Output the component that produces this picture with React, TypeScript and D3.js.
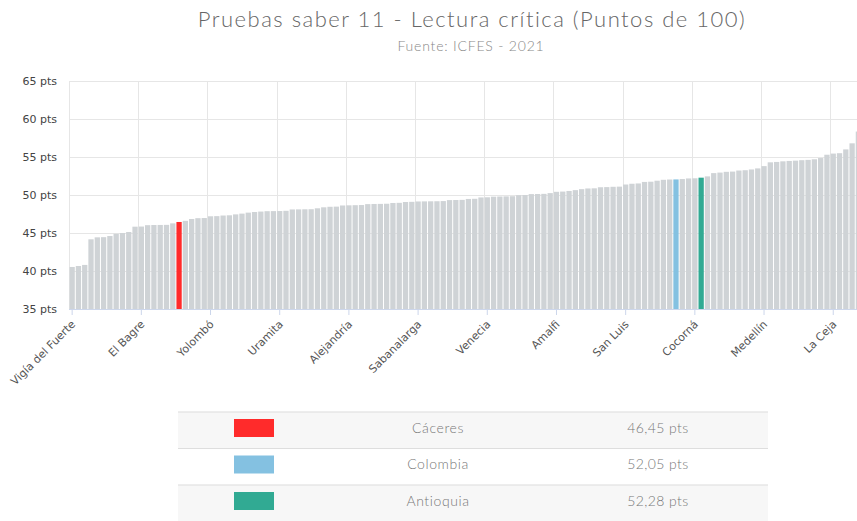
import React from "react";
import * as d3 from "d3";

// Scores (pts) for every bar, sorted ascending (last bar lies beyond the visible frame)
const values: number[] = [
  40.53, 40.66, 40.8, 44.17, 44.43, 44.45, 44.6, 44.9, 45.0, 45.13,
  45.83, 45.85, 46.03, 46.05, 46.06, 46.07, 46.27, 46.45, 46.6, 46.84,
  46.95, 46.97, 47.2, 47.22, 47.3, 47.33, 47.45, 47.55, 47.68, 47.76,
  47.82, 47.87, 47.88, 47.89, 47.92, 48.1, 48.11, 48.12, 48.13, 48.25,
  48.38, 48.45, 48.47, 48.62, 48.64, 48.66, 48.68, 48.8, 48.82, 48.83,
  48.85, 48.95, 48.97, 49.08, 49.1, 49.15, 49.16, 49.17, 49.18, 49.2,
  49.33, 49.34, 49.36, 49.48, 49.5, 49.68, 49.7, 49.78, 49.8, 49.82,
  49.84, 49.98, 50.0, 50.12, 50.13, 50.15, 50.25, 50.42, 50.45, 50.53,
  50.64, 50.77, 50.86, 50.88, 51.02, 51.04, 51.08, 51.1, 51.38, 51.48,
  51.52, 51.72, 51.75, 51.88, 52.0, 52.04, 52.05, 52.1, 52.18, 52.2,
  52.28, 52.45, 52.88, 52.95, 53.05, 53.08, 53.22, 53.26, 53.36, 53.5,
  53.8, 54.3, 54.35, 54.43, 54.48, 54.52, 54.58, 54.62, 54.7, 54.86,
  55.3, 55.45, 55.5, 56.0, 56.8, 58.35, 60.2,
];

// Category names shown on the axis (one every labelStep bars)
const axisLabels: string[] = [
  "Vigía del Fuerte", "El Bagre", "Yolombó", "Uramita", "Alejandría", "Sabanalarga",
  "Venecia", "Amalfi", "San Luis", "Cocorná", "Medellín", "La Ceja",
];
const labelStep = 11;

// Highlighted entries
const highlightNames: string[] = ["Cáceres", "Colombia", "Antioquia"];
const highlightIndex: number[] = [17, 96, 100];
const highlightValues: number[] = [46.45, 52.05, 52.28];
const highlightColors: string[] = ["#ff2b2b", "#84c1e1", "#31aa93"];

const yTicks: number[] = [35, 40, 45, 50, 55, 60, 65];

const W = 857;
const H = 521;
const plotLeft = 69;
const step = 6.29;
const plotTop = 81;
const plotBottom = 309;

export default function App() {
  const n = values.length;
  const x = d3
    .scaleBand<number>()
    .domain(d3.range(n))
    .range([plotLeft, plotLeft + n * step])
    .padding(0);
  const y = d3.scaleLinear().domain([35, 65]).range([plotBottom, plotTop]);
  const plotRight = plotLeft + n * step;

  const colorOf = (i: number) => {
    const k = highlightIndex.indexOf(i);
    return k >= 0 ? highlightColors[k] : "#cfd3d6";
  };

  const labelIdx = axisLabels.map((_, k) => k * labelStep);
  const titleFont = "Lato, 'Open Sans', sans-serif";
  const axisFont = "'DejaVu Sans', Verdana, sans-serif";

  const rowTop = 411.5;
  const rowH = 36.5;
  const tableLeft = 178;
  const tableRight = 768;

  return (
    <div style={{ position: "absolute", left: 0, top: 0 }}>
      <svg width={W} height={H} style={{ display: "block", background: "#fff" }}>
        {/* Titles */}
        <text x={472} y={27} textAnchor="middle" fontFamily={titleFont} fontWeight={300}
          fontSize={22} letterSpacing={1.5} fill="#666">
          Pruebas saber 11 - Lectura crítica (Puntos de 100)
        </text>
        <text x={471} y={51} textAnchor="middle" fontFamily={titleFont} fontWeight={300}
          fontSize={14} letterSpacing={0.8} fill="#888">
          Fuente: ICFES - 2021
        </text>

        {/* Horizontal grid + y labels */}
        {yTicks.map((t) => (
          <g key={"y" + t}>
            <line x1={plotLeft} x2={plotRight} y1={y(t) + 0.5} y2={y(t) + 0.5}
              stroke="#e6e6e6" />
            <text x={57} y={y(t) + 4} textAnchor="end" fontFamily={axisFont}
              fontSize={11} fill="#444">
              {t} pts
            </text>
          </g>
        ))}

        {/* Vertical grid */}
        {labelIdx.map((i) => (
          <line key={"vg" + i} x1={Math.round(x(i)!) + 0.5} x2={Math.round(x(i)!) + 0.5}
            y1={plotTop} y2={plotBottom} stroke="#e6e6e6" />
        ))}

        {/* Bars */}
        {values.map((v, i) => (
          <rect key={"b" + i} x={x(i)! + 0.5} width={x.bandwidth() - 1}
            y={y(v)} height={plotBottom - y(v)} fill={colorOf(i)} />
        ))}

        {/* X axis */}
        <line x1={plotLeft} x2={plotRight} y1={plotBottom + 0.5} y2={plotBottom + 0.5}
          stroke="#ccd6eb" />
        {labelIdx.map((i, k) => {
          const cx = x(i)! + x.bandwidth() / 2;
          return (
            <g key={"xl" + i}>
              <line x1={cx} x2={cx} y1={plotBottom} y2={plotBottom + 6} stroke="#ccd6eb" />
              <text transform={`translate(${cx + 4},${plotBottom + 16}) rotate(-45)`}
                textAnchor="end" fontFamily={axisFont} fontSize={11} fill="#555">
                {axisLabels[k]}
              </text>
            </g>
          );
        })}

        {/* Legend table */}
        {highlightNames.map((name, k) => {
          const top = rowTop + k * rowH;
          return (
            <g key={"row" + k}>
              <rect x={tableLeft} y={top} width={tableRight - tableLeft} height={rowH}
                fill={k % 2 === 0 ? "#f7f7f7" : "#ffffff"} />
              <line x1={tableLeft} x2={tableRight} y1={top + 0.5} y2={top + 0.5}
                stroke="#dedede" />
              <rect x={234} y={top + 7.5} width={40} height={18}
                fill={highlightColors[k]} />
              <text x={438} y={top + 21} textAnchor="middle" fontFamily={titleFont}
                fontWeight={300} fontSize={14} letterSpacing={0.6} fill="#777">
                {name}
              </text>
              <text x={658} y={top + 21} textAnchor="middle" fontFamily={titleFont}
                fontWeight={300} fontSize={14} letterSpacing={0.4} fill="#777">
                {highlightValues[k].toFixed(2).replace(".", ",")} pts
              </text>
            </g>
          );
        })}
      </svg>
    </div>
  );
}
